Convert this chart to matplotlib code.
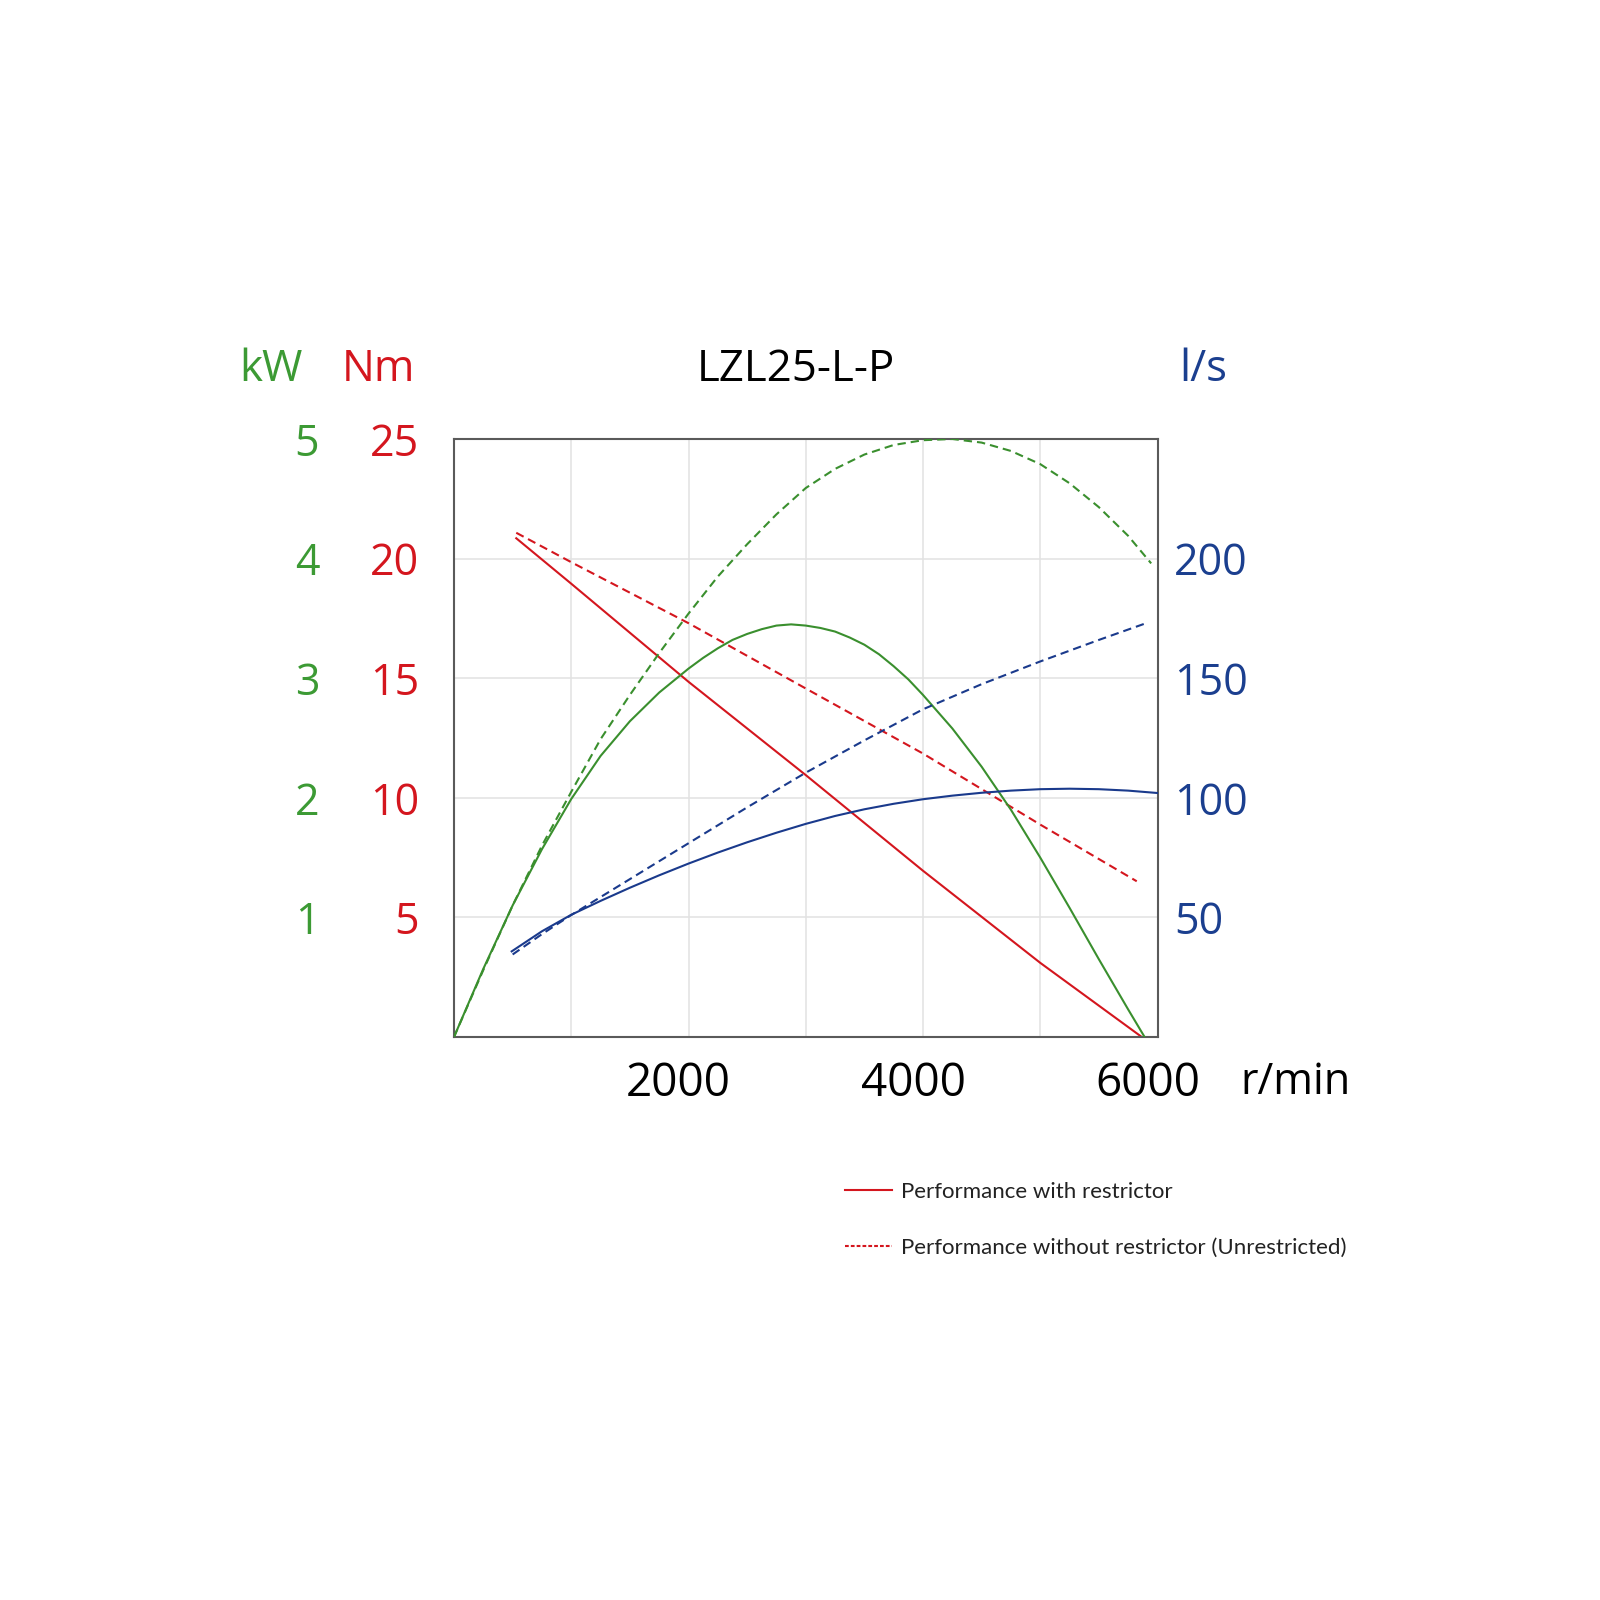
import numpy as np
import matplotlib.pyplot as plt
import matplotlib.transforms as mtransforms
from matplotlib.lines import Line2D

# torque (Nm)
rpm_t = [531, 1000, 2000, 3000, 4000, 5000, 5866]
torque = [20.85, 18.95, 14.85, 10.95, 6.95, 3.1, 0.0]
rpm_t_u = [531, 1000, 2000, 3000, 4000, 5000, 5823]
torque_u = [21.08, 19.85, 17.3, 14.57, 11.85, 8.88, 6.51]

# power (kW)
rpm_p = [0, 250, 500, 750, 1000, 1250, 1500, 1750, 2000, 2125, 2250, 2375, 2500,
         2625, 2750, 2875, 3000, 3125, 3250, 3375, 3500, 3625, 3750, 3875, 4000,
         4250, 4500, 4750, 5000, 5250, 5500, 5750, 5890]
power = [0, 0.57, 1.10, 1.57, 1.99, 2.35, 2.64, 2.88, 3.08, 3.17, 3.25, 3.32, 3.37,
         3.41, 3.44, 3.45, 3.44, 3.42, 3.39, 3.34, 3.28, 3.20, 3.10, 2.99, 2.86,
         2.58, 2.26, 1.90, 1.50, 1.08, 0.65, 0.23, 0.0]
rpm_p_u = [0, 250, 500, 750, 1000, 1250, 1500, 1750, 2000, 2250, 2500, 2750, 3000,
           3250, 3500, 3750, 4000, 4250, 4500, 4750, 5000, 5250, 5500, 5750, 5946]
power_u = [0, 0.56, 1.10, 1.60, 2.05, 2.49, 2.86, 3.21, 3.54, 3.85, 4.12, 4.37, 4.59,
           4.75, 4.87, 4.95, 4.99, 5.0, 4.97, 4.90, 4.79, 4.63, 4.43, 4.19, 3.96]

# air flow (l/s)
rpm_q = [492, 750, 1000, 1250, 1500, 1750, 2000, 2250, 2500, 2750, 3000, 3250, 3500,
         3750, 4000, 4250, 4500, 4750, 5000, 5250, 5500, 5750, 6000]
flow = [35.8, 44.2, 51.1, 56.9, 62.4, 67.6, 72.5, 77.1, 81.4, 85.4, 89.1, 92.4, 95.2,
        97.5, 99.4, 100.9, 102.1, 103.0, 103.6, 103.8, 103.6, 103.0, 102.0]
rpm_q_u = [500, 750, 1000, 1500, 2000, 2500, 3000, 3500, 4000, 4500, 5000, 5500, 5920]
flow_u = [34.5, 43, 51, 66, 81, 96, 110.5, 124, 137, 147.5, 157, 166, 173.3]

x_labels = ['2000', '4000', '6000']
nm_ticks = [5, 10, 15, 20, 25]
kw_ticks = [1, 2, 3, 4, 5]
ls_ticks = [50, 100, 150, 200]

green = '#3a8f2e'
red = '#d4161e'
blue = '#1a3a8c'
green_txt = '#3c9a34'
blue_txt = '#1b3f8f'

plt.rcParams['font.family'] = ['Open Sans', 'DejaVu Sans']

fig = plt.figure(figsize=(16, 16), dpi=100)
ax = fig.add_axes([454/1600, 1 - 1037/1600, 703.5/1600, 598/1600])
ax_kw = ax.twinx()
ax_ls = ax.twinx()

dash = (4, 2.4)
lw = 1.5
ax.plot(rpm_t, torque, color=red, lw=lw)
ax.plot(rpm_t_u, torque_u, color=red, lw=lw, dashes=dash)
ax_kw.plot(rpm_p, power, color=green, lw=lw)
ax_kw.plot(rpm_p_u, power_u, color=green, lw=lw, dashes=dash)
ax_ls.plot(rpm_q, flow, color=blue, lw=lw)
ax_ls.plot(rpm_q_u, flow_u, color=blue, lw=lw, dashes=dash)

ax.set_xlim(0, 6000)
ax.set_ylim(0, 25)
ax_kw.set_ylim(0, 5)
ax_ls.set_ylim(0, 250)

ax.set_xticks([2000, 4000, 6000])
ax.set_xticklabels(x_labels)
ax.set_xticks([1000, 3000, 5000], minor=True)
ax.set_yticks(nm_ticks)
ax.set_yticklabels([str(v) for v in nm_ticks])
ax.grid(True, which='both', color='#e2e2e2', lw=1.1)
ax.set_axisbelow(True)
ax.tick_params(axis='x', which='both', length=0, pad=17, labelsize=33, labelcolor='black')
ax.tick_params(axis='y', length=0, pad=25, labelsize=31, labelcolor=red)

shift = mtransforms.ScaledTranslation(-10/100, 0, fig.dpi_scale_trans)
for lab in ax.get_xticklabels():
    lab.set_transform(lab.get_transform() + shift)

ax_kw.yaxis.tick_left()
ax_kw.set_yticks(kw_ticks)
ax_kw.set_yticklabels([str(v) for v in kw_ticks])
ax_kw.tick_params(axis='y', length=0, pad=97, labelsize=31, labelcolor=green_txt)

ax_ls.set_yticks(ls_ticks)
ax_ls.set_yticklabels([str(v) for v in ls_ticks])
ax_ls.tick_params(axis='y', length=0, pad=12, labelsize=31, labelcolor=blue_txt)

for a in (ax_kw, ax_ls):
    for s in a.spines.values():
        s.set_visible(False)
for s in ax.spines.values():
    s.set_color('#5a5a5a')
    s.set_linewidth(1.5)

fig.text(271/1600, 1 - 381/1600, 'kW', color=green_txt, fontsize=31.5, ha='center', va='baseline')
fig.text(378/1600, 1 - 381/1600, 'Nm', color=red, fontsize=31.5, ha='center', va='baseline')
fig.text(796/1600, 1 - 381/1600, 'LZL25-L-P', color='black', fontsize=31.5, ha='center', va='baseline')
fig.text(1203/1600, 1 - 381/1600, 'l/s', color=blue_txt, fontsize=31.5, ha='center', va='baseline')
fig.text(1240/1600, 1 - 1094/1600, 'r/min', color='black', fontsize=31, ha='left', va='baseline')

handles = [Line2D([], [], color=red, lw=1.5),
           Line2D([], [], color=red, lw=1.5, dashes=(1.8, 1.0))]
fig.legend(handles, ['Performance with restrictor',
                     'Performance without restrictor (Unrestricted)'],
           loc='upper left', bbox_to_anchor=(845/1600, 1 - 1182/1600),
           frameon=False, borderpad=0, borderaxespad=0, handlelength=2.1,
           handletextpad=0.4, labelspacing=1.63, labelcolor='#222222',
           prop={'family': ['Lato', 'DejaVu Sans'], 'size': 16})

fig.savefig('out.png', dpi=100, facecolor='white')
